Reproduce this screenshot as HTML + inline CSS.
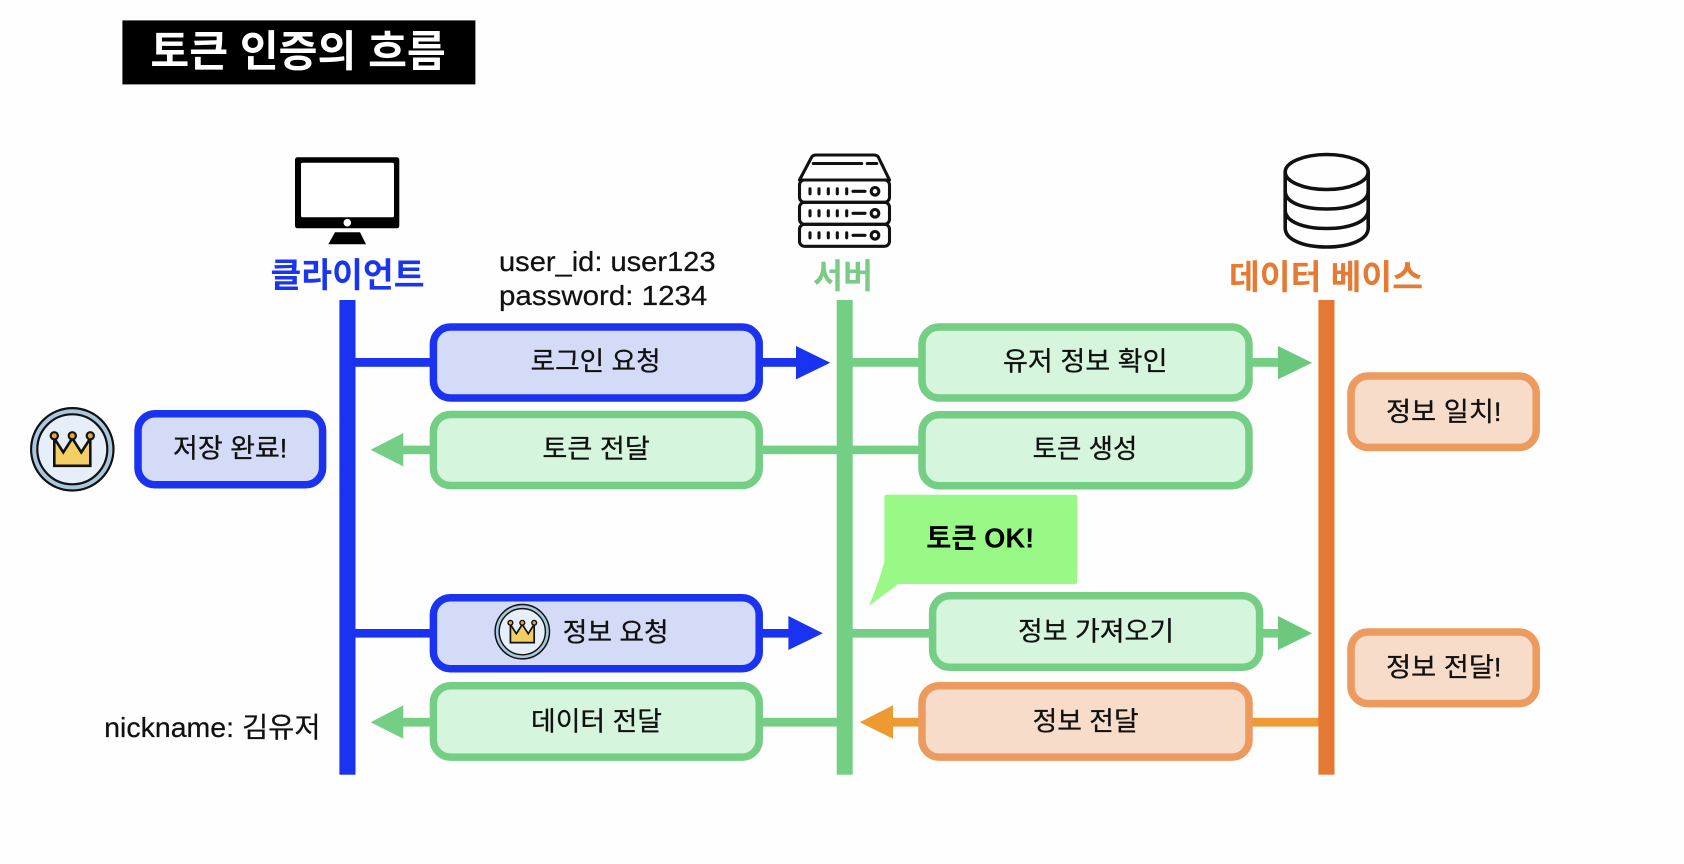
<!DOCTYPE html>
<html lang="ko">
<head>
<meta charset="utf-8">
<title>토큰 인증의 흐름</title>
<style>
html,body{margin:0;padding:0;background:#fefefe;width:1684px;height:864px;overflow:hidden}
svg{display:block;filter:blur(0.35px)}
text{font-family:"Liberation Sans","Noto Sans CJK KR",sans-serif;fill:#161616}
.l{font-size:34px;font-weight:700}
.m{font-size:26.5px;fill:#111;stroke:#111;stroke-width:.3}
.t{font-size:28px;fill:#111;stroke:#111;stroke-width:.25}
.bl{fill:#d3dbf6;stroke:#1a33f0;stroke-width:7.5}
.gr{fill:#d5f5dc;stroke:#74cf85;stroke-width:7.5}
.or{fill:#f6dcc9;stroke:#ec9a5e;stroke-width:7.5}
</style>
</head>
<body>
<svg width="1684" height="864" viewBox="0 0 1684 864" xmlns="http://www.w3.org/2000/svg">
<defs>
<g id="crown">
  <circle cx="0" cy="0" r="41.2" fill="#a9c8e0" stroke="#111" stroke-width="2.2"/>
  <circle cx="0" cy="0" r="35" fill="#e6eff9" stroke="#111" stroke-width="2.2"/>
  <path d="M-18 -11 L-9 3 L0 -11 L9 3 L18 -11 L18 16.5 L-18 16.5 Z" fill="#f3cf63" stroke="#111" stroke-width="2.6" stroke-linejoin="miter"/>
  <circle cx="-18" cy="-13.5" r="3.6" fill="#e2a93c" stroke="#111" stroke-width="2.2"/>
  <circle cx="0" cy="-13.5" r="3.6" fill="#e2a93c" stroke="#111" stroke-width="2.2"/>
  <circle cx="18" cy="-13.5" r="3.6" fill="#e2a93c" stroke="#111" stroke-width="2.2"/>
</g>
</defs>

<rect width="1684" height="864" fill="#fefefe"/>

<!-- title -->
<rect x="122.4" y="20.4" width="353" height="64" fill="#000"/>
<text x="150.4" y="66.5" textLength="295.4" lengthAdjust="spacingAndGlyphs" style="font-size:43px;font-weight:700;fill:#fff">토큰 인증의 흐름</text>

<!-- monitor -->
<rect x="295" y="157.3" width="104.3" height="71" rx="2.5" fill="#000"/>
<rect x="301" y="162.7" width="93" height="54.6" rx="1.5" fill="#fff"/>
<circle cx="347.3" cy="222.7" r="3.8" fill="#fff"/>
<path d="M335 232.3 H360 L366 244.3 H328.3 Z" fill="#000"/>

<!-- server -->
<g fill="none" stroke="#111" stroke-width="3.1" stroke-linejoin="round" stroke-linecap="round">
  <path d="M799.5 180 L811.7 157 Q813 155 816 155 H874 Q877 155 878.3 157 L889.5 180 Z"/>
  <rect x="799.5" y="180" width="90" height="22.3" rx="5"/>
  <rect x="799.5" y="202.3" width="90" height="22" rx="5"/>
  <rect x="799.5" y="224.3" width="90" height="22" rx="5"/>
  <path d="M813.3 163.5 H861.7 M867.3 163.5 H876.7"/>
  <path d="M810 188.8 v5 M819 188.8 v5 M828.3 188.8 v5 M837.3 188.8 v5 M846.7 188.8 v5 M853 191.3 H865"/>
  <circle cx="875" cy="191.3" r="3.8"/>
  <path d="M810 210.8 v5 M819 210.8 v5 M828.3 210.8 v5 M837.3 210.8 v5 M846.7 210.8 v5 M853 213.3 H865"/>
  <circle cx="875" cy="213.3" r="3.8"/>
  <path d="M810 232.8 v5 M819 232.8 v5 M828.3 232.8 v5 M837.3 232.8 v5 M846.7 232.8 v5 M853 235.3 H865"/>
  <circle cx="875" cy="235.3" r="3.8"/>
</g>

<!-- database -->
<g fill="none" stroke="#111" stroke-width="3.6">
  <ellipse cx="1326.7" cy="172" rx="41.5" ry="17.5"/>
  <path d="M1285.2 172 V228 C1285.2 240 1304 247 1326.7 247 C1349 247 1368.2 240 1368.2 228 V172"/>
  <path d="M1285.2 191 C1285.2 203 1304 209 1326.7 209 C1349 209 1368.2 203 1368.2 191"/>
  <path d="M1285.2 210 C1285.2 222 1304 228.5 1326.7 228.5 C1349 228.5 1368.2 222 1368.2 210"/>
</g>

<!-- heading labels -->
<text class="l" x="270.5" y="287" textLength="154" lengthAdjust="spacingAndGlyphs" style="fill:#1a35ee">클라이언트</text>
<text class="l" x="813" y="288" textLength="60" lengthAdjust="spacingAndGlyphs" style="fill:#7acb85">서버</text>
<text class="l" x="1229" y="289" textLength="194" lengthAdjust="spacingAndGlyphs" style="fill:#e67a33">데이터 베이스</text>

<text class="t" x="499" y="271" textLength="216.5" lengthAdjust="spacingAndGlyphs">user_id: user123</text>
<text class="t" x="499" y="305" textLength="208.3" lengthAdjust="spacingAndGlyphs">password: 1234</text>

<!-- connector lines -->
<g>
  <rect x="350" y="358" width="84" height="8.8" fill="#1a33f0"/>
  <rect x="758" y="358" width="40" height="8.8" fill="#1a33f0"/>
  <path d="M796 346 L830.3 362.8 L796 379.4 Z" fill="#1a33f0"/>

  <rect x="850" y="358" width="72" height="8.8" fill="#74cf85"/>
  <rect x="1248" y="358" width="32" height="8.8" fill="#74cf85"/>
  <path d="M1278 346 L1312 362.8 L1278 379.4 Z" fill="#6cc87c"/>

  <rect x="400" y="445.6" width="34" height="8.6" fill="#74cf85"/>
  <path d="M403.3 433 L370.6 449.8 L403.3 466.4 Z" fill="#74cf85"/>
  <rect x="758" y="445.6" width="164" height="8.6" fill="#74cf85"/>

  <rect x="350" y="629" width="84" height="8.6" fill="#1a33f0"/>
  <rect x="758" y="629" width="32" height="8.6" fill="#1a33f0"/>
  <path d="M788.4 616 L822.8 633.3 L788.4 650 Z" fill="#1a33f0"/>

  <rect x="850" y="629" width="84" height="8.6" fill="#74cf85"/>
  <rect x="1258" y="629" width="22" height="8.6" fill="#74cf85"/>
  <path d="M1278 616 L1312 633.3 L1278 650 Z" fill="#6cc87c"/>

  <rect x="400" y="717.8" width="34" height="8.8" fill="#74cf85"/>
  <path d="M403.3 705.3 L370.6 722.2 L403.3 738.7 Z" fill="#74cf85"/>
  <rect x="758" y="717.8" width="82" height="8.8" fill="#74cf85"/>

  <rect x="890" y="717.8" width="32" height="8.8" fill="#ee9a33"/>
  <path d="M893 705.3 L859.7 722.2 L893 738.7 Z" fill="#ee9a33"/>
  <rect x="1248" y="717.8" width="72" height="8.8" fill="#ee9a33"/>
</g>

<!-- vertical bars -->
<rect x="339.4" y="300" width="16.1" height="474.7" fill="#1a33f0"/>
<rect x="836.7" y="300" width="16" height="474.7" fill="#74cf85"/>
<rect x="1318.4" y="300" width="16.1" height="474.7" fill="#e57933"/>

<!-- boxes -->
<rect class="bl" x="433.4" y="327" width="325.8" height="71" rx="17"/>
<rect class="gr" x="922" y="327" width="327" height="71" rx="17"/>
<rect class="bl" x="138" y="413.8" width="184.6" height="71" rx="17"/>
<rect class="gr" x="433.4" y="414.5" width="325.8" height="71" rx="17"/>
<rect class="gr" x="922" y="414.7" width="327" height="71" rx="17"/>
<rect class="or" x="1351" y="376" width="185.2" height="71.4" rx="17"/>
<rect class="bl" x="433.4" y="597.7" width="325.8" height="71" rx="17"/>
<rect class="gr" x="932.6" y="595.7" width="327" height="71.6" rx="17"/>
<rect class="gr" x="433.4" y="685.7" width="325.8" height="71.4" rx="17"/>
<rect class="or" x="922" y="685.7" width="327" height="71.4" rx="17"/>
<rect class="or" x="1351" y="632" width="185.2" height="71.6" rx="17"/>

<!-- callout -->
<path d="M886.4 494.7 H1075.2 Q1077.2 494.7 1077.2 496.7 V582 Q1077.2 584 1075.2 584 H898.4 L868.9 606 Q878 585 884.4 562 V496.7 Q884.4 494.7 886.4 494.7 Z" fill="#98f986"/>
<text x="926.3" y="547.5" textLength="108" lengthAdjust="spacingAndGlyphs" style="font-size:27.5px;font-weight:700;fill:#000">토큰 OK!</text>

<!-- box labels -->
<text class="m" x="530.6" y="370.5" textLength="130" lengthAdjust="spacingAndGlyphs">로그인 요청</text>
<text class="m" x="1003" y="370.5" textLength="164.5" lengthAdjust="spacingAndGlyphs">유저 정보 확인</text>
<text class="m" x="173" y="457.5" textLength="114.3" lengthAdjust="spacingAndGlyphs">저장 완료!</text>
<text class="m" x="542.4" y="458" textLength="107.4" lengthAdjust="spacingAndGlyphs">토큰 전달</text>
<text class="m" x="1032.6" y="458" textLength="104.8" lengthAdjust="spacingAndGlyphs">토큰 생성</text>
<text class="m" x="1386" y="421" textLength="115.5" lengthAdjust="spacingAndGlyphs">정보 일치!</text>
<text class="m" x="562.8" y="641.5" textLength="105.8" lengthAdjust="spacingAndGlyphs">정보 요청</text>
<text class="m" x="1018" y="640.5" textLength="156" lengthAdjust="spacingAndGlyphs">정보 가져오기</text>
<text class="m" x="531" y="730.5" textLength="131" lengthAdjust="spacingAndGlyphs">데이터 전달</text>
<text class="m" x="1032.6" y="730.5" textLength="106" lengthAdjust="spacingAndGlyphs">정보 전달</text>
<text class="m" x="1386" y="676.5" textLength="115.5" lengthAdjust="spacingAndGlyphs">정보 전달!</text>

<text class="t" x="104.2" y="737" textLength="216.4" lengthAdjust="spacingAndGlyphs">nickname: 김유저</text>

<!-- crowns -->
<use href="#crown" transform="translate(72.3,449.3)"/>
<use href="#crown" transform="translate(522.3,631.7) scale(0.66)"/>
</svg>
</body>
</html>
